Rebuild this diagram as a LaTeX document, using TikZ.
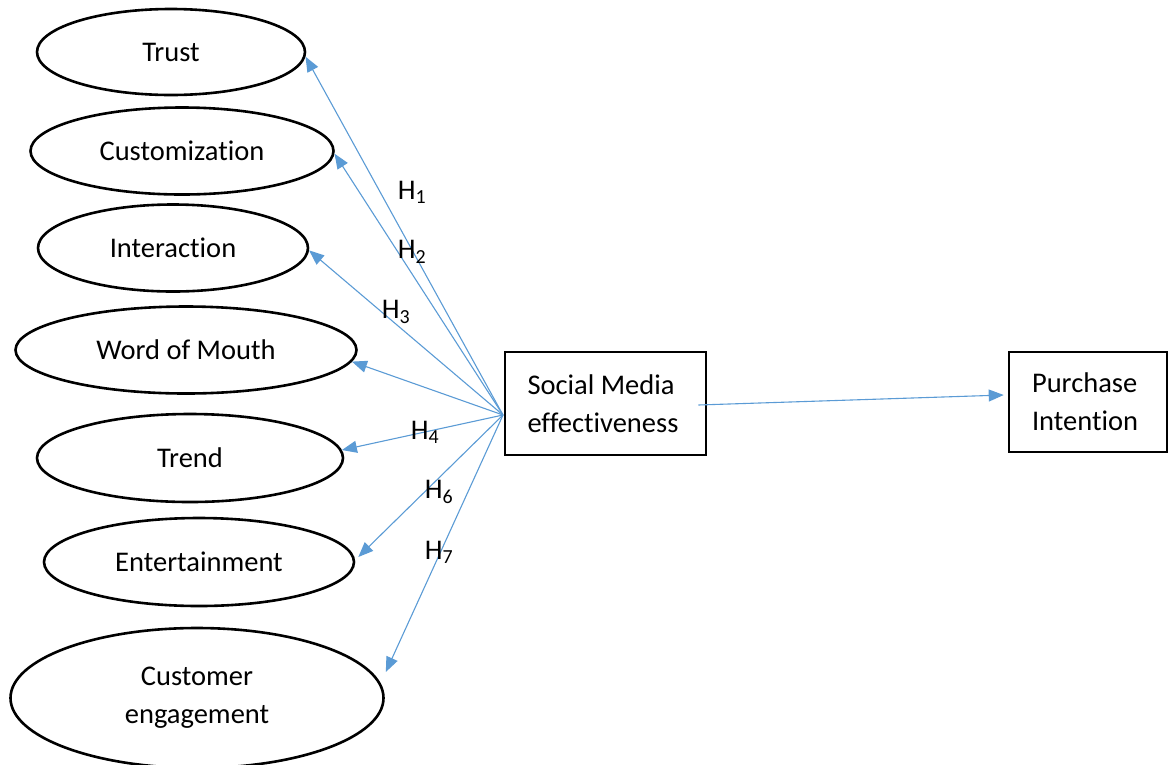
\documentclass[tikz,border=0pt]{standalone}
\usepackage{fontspec}
\setmainfont{Carlito}[Ligatures={NoCommon,NoContextual}]
\usetikzlibrary{shapes.geometric,arrows.meta}
\definecolor{arrowblue}{HTML}{5B9BD5}
\begin{document}
\begin{tikzpicture}[x=1pt,y=-1pt,
  every node/.style={font=\fontsize{28.5}{38}\selectfont},
  oval/.style={ellipse,draw=black,line width=2.6pt,inner sep=0pt},
  boxnode/.style={rectangle,draw=black,line width=2.6pt,align=flush left,inner ysep=0pt,minimum height=103pt},
  arr/.style={draw=arrowblue,line width=1.1pt,-{Triangle[length=15pt,width=12pt]}},
  hlabel/.style={inner sep=0pt}]
\useasboundingbox (0,0) rectangle (1169,764);
\node[oval,minimum width=268pt,minimum height=86pt] (trust) at (171,52) {Trust};
\node[oval,minimum width=303pt,minimum height=87pt] (cust) at (182,151) {Customization};
\node[oval,minimum width=270pt,minimum height=87pt] (inter) at (173,248) {Interaction};
\node[oval,minimum width=341pt,minimum height=87pt] (wom) at (186,350) {Word of Mouth};
\node[oval,minimum width=306pt,minimum height=88pt] (trend) at (190,458) {Trend};
\node[oval,minimum width=310pt,minimum height=88pt] (ent) at (199,562) {Entertainment};
\node[oval,minimum width=373pt,minimum height=140pt,align=center] (ce) at (197,698) {Customer\\engagement};
\node[boxnode,text width=156pt,inner xsep=22.5pt] (sme) at (605.5,403.5) {Social Media\\effectiveness};
\node[boxnode,text width=112pt,inner xsep=23pt,minimum height=100pt] (pi) at (1088,402) {Purchase\\Intention};
\coordinate (hub) at (503,415);
\draw[arr] (hub) -- (trust.-2);
\draw[arr] (hub) -- (cust.-1.5);
\draw[arr] (hub) -- (inter.-1);
\draw[arr] (hub) -- (wom.-4.6);
\draw[arr] (hub) -- (trend.3);
\draw[arr] (hub) -- ([xshift=3pt,yshift=5pt]ent.east);
\draw[arr] (hub) -- ([xshift=1pt,yshift=26pt]ce.east);
\draw[arr] ([xshift=-9pt,yshift=-1.5pt]sme.east) -- ([xshift=-4pt,yshift=7pt]pi.west);
\node[hlabel] (h1) at (412,192) {H\textsubscript{1}};
\node[hlabel] (h2) at (412,252) {H\textsubscript{2}};
\node[hlabel] (h3) at (396,312) {H\textsubscript{3}};
\node[hlabel] (h4) at (425,432) {H\textsubscript{4}};
\node[hlabel] (h6) at (439,492) {H\textsubscript{6}};
\node[hlabel] (h7) at (439,552) {H\textsubscript{7}};
\end{tikzpicture}
\end{document}
